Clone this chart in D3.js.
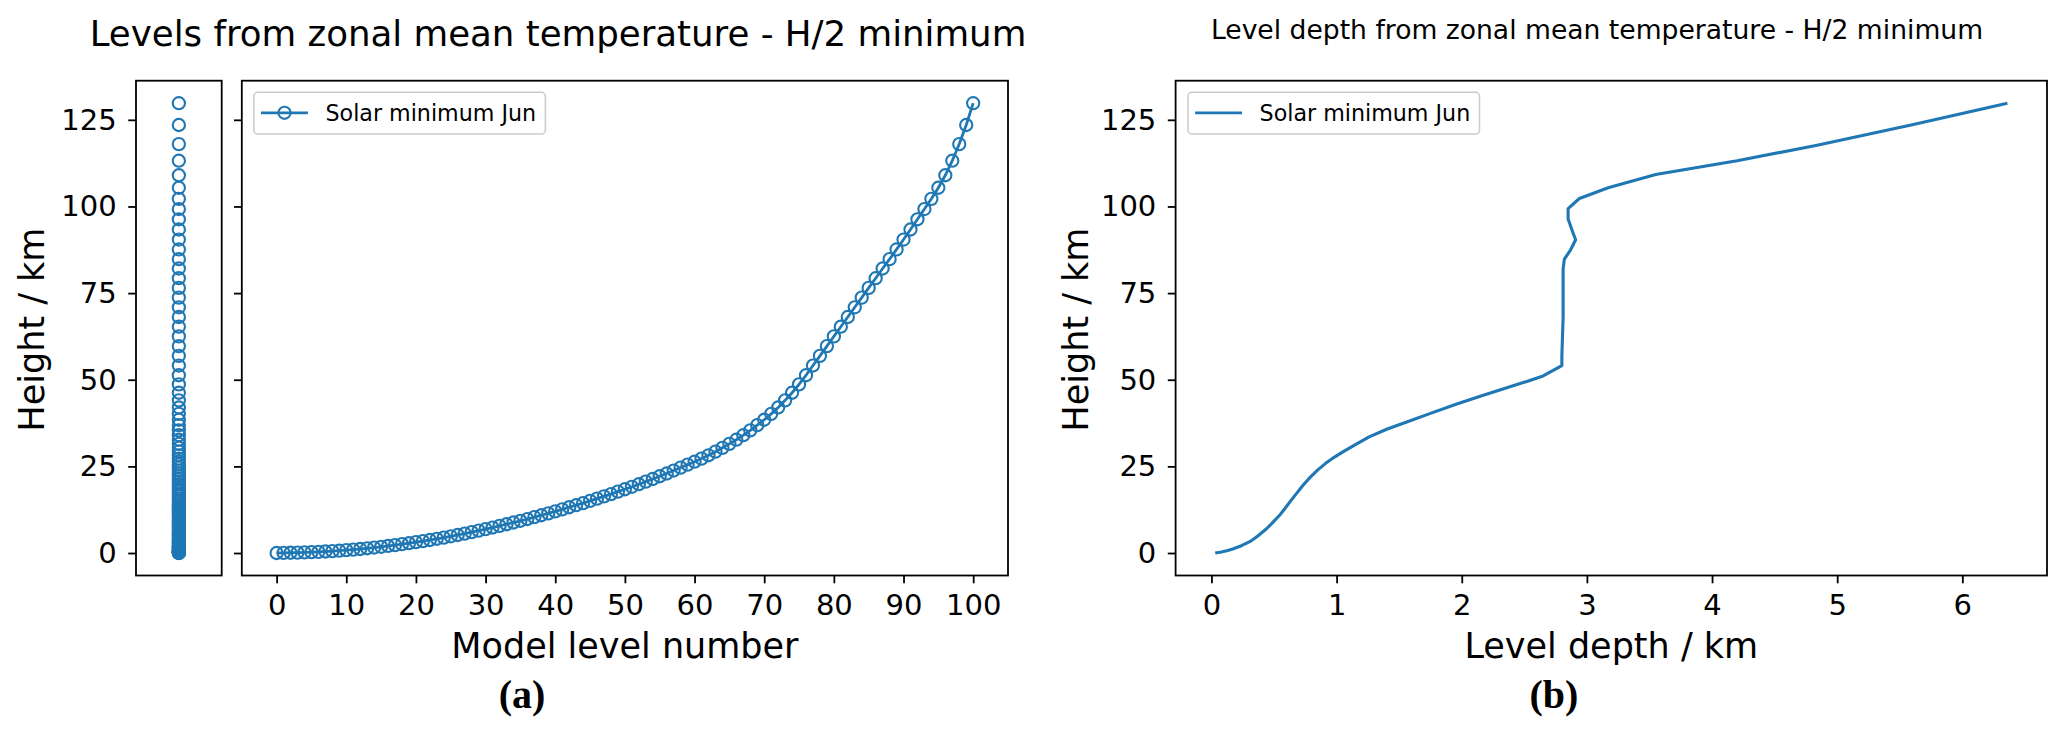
<!DOCTYPE html>
<html><head><meta charset="utf-8">
<script src="https://cdn.jsdelivr.net/npm/d3@7/dist/d3.min.js"></script>
<style>
html,body{margin:0;padding:0;background:#fff;}
svg{display:block;}
text{font-family:"DejaVu Sans",sans-serif;fill:#000;}
</style></head><body>
<svg id="chart" width="2067" height="737"></svg>
<script>
// ---------------- data ----------------
const seriesName = "Solar minimum Jun";
// Height (km) of each model level 0..100 (panel a)
const levelHeights = [
  0.00, 0.035, 0.075, 0.12, 0.18, 0.25, 0.33, 0.43, 0.54, 0.67,
  0.82, 0.98, 1.16, 1.36, 1.57, 1.79, 2.03, 2.28, 2.55, 2.83,
  3.13, 3.44, 3.76, 4.10, 4.45, 4.82, 5.20, 5.60, 6.02, 6.45,
  6.90, 7.35, 7.82, 8.30, 8.80, 9.30, 9.80, 10.35, 10.90, 11.45,
  12.00, 12.60, 13.20, 13.80, 14.40, 15.05, 15.70, 16.35, 17.00, 17.70,
  18.40, 19.10, 19.85, 20.60, 21.35, 22.15, 22.95, 23.80, 24.65, 25.50,
  26.35, 27.25, 28.20, 29.25, 30.35, 31.50, 32.70, 34.00, 35.40, 36.90,
  38.45, 40.15, 42.00, 44.05, 46.25, 48.65, 51.30, 54.10, 56.90, 59.70,
  62.50, 65.30, 68.10, 70.90, 73.70, 76.50, 79.30, 82.10, 84.80, 87.60,
  90.45, 93.35, 96.30, 99.25, 102.20, 105.40, 109.00, 113.20, 118.00, 123.50,
  129.80
];
const levelNumbers = levelHeights.map((h, i) => i);

// Level depth (km) against height (km) (panel b)
const depthKm = [
  0.03, 0.08, 0.13, 0.17, 0.24, 0.31, 0.37, 0.44, 0.50, 0.55,
  0.59, 0.63, 0.68, 0.73, 0.79, 0.85, 0.91, 0.98, 1.05, 1.15,
  1.26, 1.40, 1.56, 1.75, 1.96, 2.16, 2.36, 2.52, 2.65, 2.80,
  2.80, 2.81, 2.81, 2.82, 2.87, 2.91, 2.88, 2.85, 2.85, 2.94,
  3.17, 3.55, 4.20, 4.83, 5.60, 6.36
];
const depthHeight = [
  0.0, 0.3, 0.7, 1.15, 2.1, 3.35, 4.9, 7.0, 9.2, 11.1,
  13.0, 14.9, 17.2, 19.5, 21.9, 24.0, 25.8, 27.6, 29.2, 31.3,
  33.5, 35.7, 37.8, 40.3, 43.0, 45.4, 47.7, 49.5, 51.1, 54.1,
  56.9, 68.0, 82.0, 84.8, 87.5, 90.4, 93.3, 96.4, 99.4, 102.3,
  105.4, 109.2, 113.2, 117.6, 123.6, 129.8
];

const heightTicks = [0, 25, 50, 75, 100, 125];
const levelTicks = [0, 10, 20, 30, 40, 50, 60, 70, 80, 90, 100];
const depthTicks = [0, 1, 2, 3, 4, 5, 6];

const titleA = "Levels from zonal mean temperature - H/2 minimum";
const titleB = "Level depth from zonal mean temperature - H/2 minimum";
const yLabel = "Height / km";
const xLabelA = "Model level number";
const xLabelB = "Level depth / km";

// ---------------- layout ----------------
const BLUE = "#1f77b4";
const svg = d3.select("#chart");
const TOP = 80.7, BOTTOM = 575.5;
const small = {l: 136, r: 221.7};
const mainA = {l: 241.8, r: 1008};
const panB = {l: 1175.6, r: 2047};
const TICK = 7.8, SW = 1.8;

function pad(ext) { const r = ext[1] - ext[0]; return [ext[0] - 0.05 * r, ext[1] + 0.05 * r]; }

const yA = d3.scaleLinear().domain(pad(d3.extent(levelHeights))).range([BOTTOM, TOP]);
const yB = d3.scaleLinear().domain(pad(d3.extent(depthHeight))).range([BOTTOM, TOP]);
const xSmall = d3.scaleLinear().domain([-1, 1]).range([small.l, small.r]);
const xA = d3.scaleLinear().domain(pad(d3.extent(levelNumbers))).range([mainA.l, mainA.r]);
const xB = d3.scaleLinear().domain(pad(d3.extent(depthKm))).range([panB.l, panB.r]);
const intFmt = d3.format("d");

function styleAxis(g) {
  g.select(".domain").remove();
  g.selectAll(".tick line").attr("stroke", "#000").attr("stroke-width", SW);
  g.selectAll(".tick text").attr("font-family", "DejaVu Sans").attr("font-size", 29).attr("fill", "#000");
}
function frame(p) {
  svg.append("rect").attr("x", p.l).attr("y", TOP).attr("width", p.r - p.l).attr("height", BOTTOM - TOP)
    .attr("fill", "none").attr("stroke", "#000").attr("stroke-width", SW);
}

// ---------- small panel (a, left) ----------
svg.append("g").attr("transform", `translate(${small.l},0)`)
  .call(d3.axisLeft(yA).tickValues(heightTicks).tickFormat(intFmt).tickSize(TICK).tickSizeOuter(0).tickPadding(11.5))
  .call(styleAxis);
svg.append("g").selectAll("circle").data(levelHeights).join("circle")
  .attr("cx", xSmall(0)).attr("cy", d => yA(d)).attr("r", 6.1)
  .attr("fill", "none").attr("stroke", BLUE).attr("stroke-width", 2.1);
frame(small);

// ---------- main panel (a) ----------
svg.append("g").attr("transform", `translate(${mainA.l},0)`)
  .call(d3.axisLeft(yA).tickValues(heightTicks).tickFormat("").tickSize(TICK).tickSizeOuter(0))
  .call(styleAxis);
svg.append("g").attr("transform", `translate(0,${BOTTOM})`)
  .call(d3.axisBottom(xA).tickValues(levelTicks).tickFormat(intFmt).tickSize(TICK).tickSizeOuter(0).tickPadding(11.1))
  .call(styleAxis);
const lineA = d3.line().x((d, i) => xA(levelNumbers[i])).y(d => yA(d));
svg.append("path").datum(levelHeights).attr("d", lineA)
  .attr("fill", "none").attr("stroke", BLUE).attr("stroke-width", 2.8);
svg.append("g").selectAll("circle").data(levelHeights).join("circle")
  .attr("cx", (d, i) => xA(levelNumbers[i])).attr("cy", d => yA(d)).attr("r", 6.1)
  .attr("fill", "none").attr("stroke", BLUE).attr("stroke-width", 2.1);
frame(mainA);

function legend(x0, withMarker) {
  const g = svg.append("g");
  g.append("rect").attr("x", x0).attr("y", 92.3).attr("width", 291.5).attr("height", 41.7).attr("rx", 4)
    .attr("fill", "#fff").attr("fill-opacity", 0.8).attr("stroke", "#cccccc").attr("stroke-width", 1.6);
  g.append("line").attr("x1", x0 + 7.1).attr("x2", x0 + 54).attr("y1", 112.8).attr("y2", 112.8)
    .attr("stroke", BLUE).attr("stroke-width", 2.8);
  if (withMarker) g.append("circle").attr("cx", x0 + 30.6).attr("cy", 112.8).attr("r", 6.1)
    .attr("fill", "none").attr("stroke", BLUE).attr("stroke-width", 2.1);
  g.append("text").attr("x", x0 + 71.6).attr("y", 120.5).attr("font-size", 22.2).text(seriesName);
}
legend(253.9, true);

// ---------- panel b ----------
svg.append("g").attr("transform", `translate(${panB.l},0)`)
  .call(d3.axisLeft(yB).tickValues(heightTicks).tickFormat(intFmt).tickSize(TICK).tickSizeOuter(0).tickPadding(11.5))
  .call(styleAxis);
svg.append("g").attr("transform", `translate(0,${BOTTOM})`)
  .call(d3.axisBottom(xB).tickValues(depthTicks).tickFormat(intFmt).tickSize(TICK).tickSizeOuter(0).tickPadding(11.1))
  .call(styleAxis);
const lineB = d3.line().x((d, i) => xB(depthKm[i])).y(d => yB(d));
svg.append("path").datum(depthHeight).attr("d", lineB)
  .attr("fill", "none").attr("stroke", BLUE).attr("stroke-width", 3.1).attr("stroke-linejoin", "round");
frame(panB);
legend(1188, false);

// ---------- texts ----------
svg.append("text").attr("x", 558).attr("y", 45.5).attr("text-anchor", "middle")
  .attr("font-size", 35.6).text(titleA);
svg.append("text").attr("x", 1597).attr("y", 39).attr("text-anchor", "middle")
  .attr("font-size", 26.6).text(titleB);

svg.append("text").attr("transform", "translate(44.3,329.6) rotate(-90)").attr("text-anchor", "middle")
  .attr("font-size", 35).text(yLabel);
svg.append("text").attr("transform", "translate(1087.6,329.6) rotate(-90)").attr("text-anchor", "middle")
  .attr("font-size", 35).text(yLabel);
svg.append("text").attr("x", (mainA.l + mainA.r) / 2).attr("y", 657.7).attr("text-anchor", "middle")
  .attr("font-size", 35).text(xLabelA);
svg.append("text").attr("x", (panB.l + panB.r) / 2).attr("y", 657.7).attr("text-anchor", "middle")
  .attr("font-size", 35).text(xLabelB);

svg.append("text").attr("x", 522).attr("y", 708).attr("text-anchor", "middle")
  .style("font-family", "'Liberation Serif', serif").attr("font-weight", "bold").attr("font-size", 40).text("(a)");
svg.append("text").attr("x", 1554).attr("y", 708).attr("text-anchor", "middle")
  .style("font-family", "'Liberation Serif', serif").attr("font-weight", "bold").attr("font-size", 40).text("(b)");
</script>
</body></html>
